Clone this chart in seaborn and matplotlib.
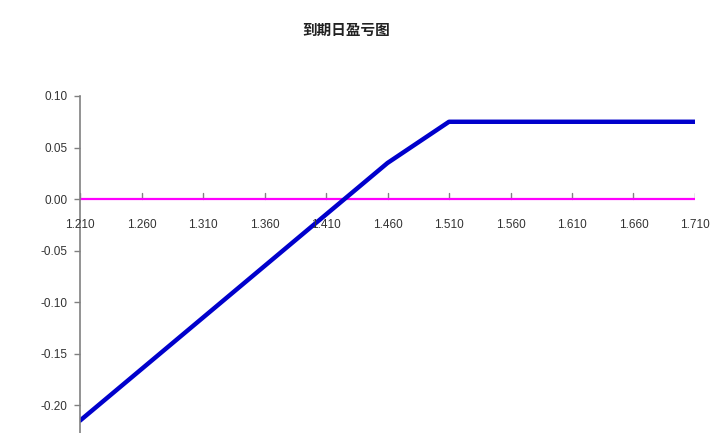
import seaborn as sns
import matplotlib.pyplot as plt
import pandas as pd

# expiry price vs profit/loss at expiry
prices = [1.21, 1.26, 1.31, 1.36, 1.41, 1.46, 1.51, 1.56, 1.61, 1.66, 1.71]
pnl = [-0.215, -0.165, -0.115, -0.065, -0.015, 0.035, 0.075, 0.075, 0.075, 0.075, 0.075]
zero_line = [0.0] * len(prices)
tick_labels = ['1.210', '1.260', '1.310', '1.360', '1.410', '1.460',
               '1.510', '1.560', '1.610', '1.660', '1.710']
y_ticks = [-0.20, -0.15, -0.10, -0.05, 0.00, 0.05, 0.10]

df = pd.DataFrame({'price': prices, 'pnl': pnl, 'zero': zero_line})

sns.set_style('white')
plt.rcParams['font.family'] = ['Liberation Sans', 'Noto Sans CJK SC', 'DejaVu Sans']

fig = plt.figure(figsize=(7.2, 4.33), dpi=100)
ax = fig.add_axes([80 / 720, 0.0, 615 / 720, 1 - 96 / 433])

sns.lineplot(data=df, x='price', y='zero', color='#ff00ff', linewidth=1.6, ax=ax)
sns.lineplot(data=df, x='price', y='pnl', color='#0000cc', linewidth=3.2, ax=ax)

ax.set_xlim(1.21, 1.71)
ax.set_ylim(-0.227, 0.10)
ax.set_xlabel('')
ax.set_ylabel('')

ax.set_xticks(prices)
ax.set_yticks(y_ticks)
ax.set_yticklabels([f'{v:.2f}' for v in y_ticks])

for s in ['top', 'right', 'bottom']:
    ax.spines[s].set_visible(False)
ax.spines['left'].set_color('#808080')
ax.spines['left'].set_linewidth(1.2)

ax.tick_params(axis='y', left=True, length=4, width=1, color='#808080',
               labelsize=8.5, labelcolor='#333333', pad=5)
ax.tick_params(axis='x', bottom=False)
ax.set_xticklabels([])
for x in prices:
    ax.plot([x, x], [0, 0.006], color='#808080', linewidth=1, zorder=1)

# category labels sit under the zero line, as in the spreadsheet chart
for x, t in zip(prices, tick_labels):
    ax.text(x, -0.025, t, ha='center', va='center', fontsize=8.5, color='#333333')

fig.text(346 / 720, 1 - 30 / 433, '到期日盈亏图', ha='center', va='center',
         fontsize=10.5, fontweight='bold', color='#222222',
         family=['Noto Sans CJK SC', 'DejaVu Sans'])

fig.savefig('out.png', dpi=100, facecolor='white')
